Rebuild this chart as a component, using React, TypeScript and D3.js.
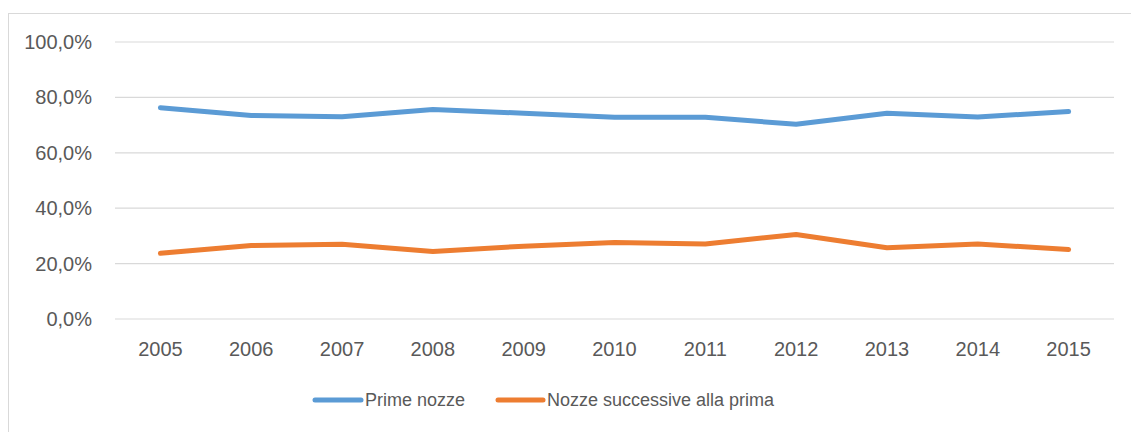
import React from "react";
import * as d3 from "d3";

const years = ["2005", "2006", "2007", "2008", "2009", "2010", "2011", "2012", "2013", "2014", "2015"];
const primeNozze = [76.3, 73.5, 73.0, 75.6, 74.3, 72.8, 72.8, 70.3, 74.3, 72.9, 74.9];
const nozzeSuccessive = [23.7, 26.5, 27.0, 24.4, 26.3, 27.6, 27.1, 30.5, 25.7, 27.1, 25.1];
const yTicks = [0, 20, 40, 60, 80, 100];
const seriesNames = ["Prime nozze", "Nozze successive alla prima"];
const seriesColors = ["#5b9bd5", "#ed7d31"];

const W = 1131;
const H = 432;
const plot = { left: 115, right: 1114, top: 42, bottom: 319 };
const FONT = "'Liberation Sans', Arial, sans-serif";
const TEXT = "#595959";

export default function App() {
  const x = d3.scalePoint<string>().domain(years).range([plot.left, plot.right]).padding(0.5);
  const y = d3.scaleLinear().domain([0, 100]).range([plot.bottom, plot.top]);
  const fmt = (v: number) => v.toFixed(1).replace(".", ",") + "%";
  const line = d3
    .line<number>()
    .x((_, i) => x(years[i]) as number)
    .y((d) => y(d));
  const series = [primeNozze, nozzeSuccessive];

  const legendItems = [
    { x1: 315, x2: 361, tx: 365 },
    { x1: 498, x2: 543, tx: 547 },
  ];

  return (
    <>
      <style>{`body{margin:0}`}</style>
      <svg width={W} height={H} style={{ display: "block", background: "#fff" }}>
        <rect x={8.5} y={13.5} width={1200} height={500} fill="#fff" stroke="#d9d9d9" strokeWidth={1} />
        {yTicks.map((t) => (
          <g key={t}>
            <line x1={plot.left} x2={plot.right} y1={y(t)} y2={y(t)} stroke="#d9d9d9" strokeWidth={1.2} />
            <text
              x={92}
              y={y(t)}
              textAnchor="end"
              dominantBaseline="central"
              fontFamily={FONT}
              fontSize={20}
              fill={TEXT}
            >
              {fmt(t)}
            </text>
          </g>
        ))}
        {years.map((yr) => (
          <text
            key={yr}
            x={x(yr)}
            y={349}
            textAnchor="middle"
            dominantBaseline="central"
            fontFamily={FONT}
            fontSize={20}
            fill={TEXT}
          >
            {yr}
          </text>
        ))}
        {series.map((s, i) => (
          <path
            key={i}
            d={line(s) || ""}
            fill="none"
            stroke={seriesColors[i]}
            strokeWidth={5}
            strokeLinecap="round"
            strokeLinejoin="round"
          />
        ))}
        {legendItems.map((l, i) => (
          <g key={i}>
            <line x1={l.x1} x2={l.x2} y1={400} y2={400} stroke={seriesColors[i]} strokeWidth={5} strokeLinecap="round" />
            <text x={l.tx} y={400} dominantBaseline="central" fontFamily={FONT} fontSize={18} fill={TEXT}>
              {seriesNames[i]}
            </text>
          </g>
        ))}
      </svg>
    </>
  );
}
